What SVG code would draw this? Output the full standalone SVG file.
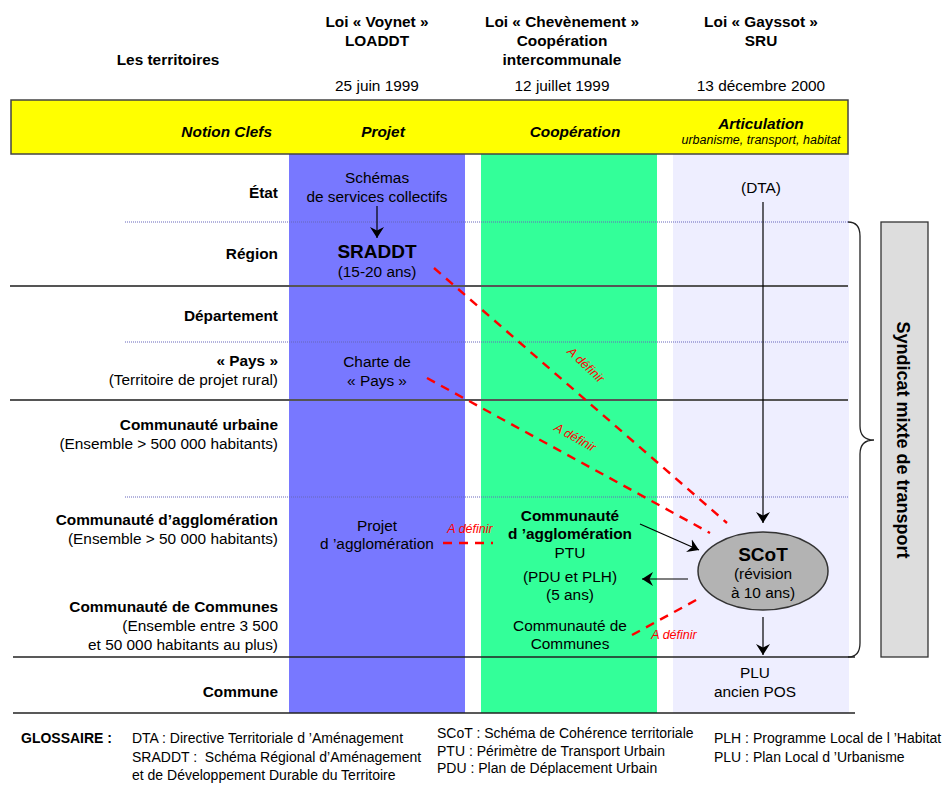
<svg xmlns="http://www.w3.org/2000/svg" width="945" height="785" viewBox="0 0 945 785">
<style>
text{font-family:"Liberation Sans",Arial,sans-serif;font-size:15.4px;fill:#000}
.c{text-anchor:middle}
.r{text-anchor:end}
.b{font-weight:bold}
.bi{font-weight:bold;font-style:italic}
.big{font-size:19px;font-weight:bold}
.red{fill:#FF0000;font-style:italic;font-size:12.5px}
.g{font-size:14px}
.solid{stroke:#555;stroke-width:2}
.thin{stroke:#222;stroke-width:1.3}
.dot{stroke:#6666BB;stroke-width:1;stroke-dasharray:1 1}
.dash{stroke:#FF0000;stroke-width:2.4;stroke-dasharray:9 7;fill:none}
.arr{stroke:#000;stroke-width:1.2;fill:none;marker-end:url(#ah)}
</style>
<defs>
<marker id="ah" viewBox="0 0 11 14" refX="11" refY="7" markerWidth="11" markerHeight="14" markerUnits="userSpaceOnUse" orient="auto">
<path d="M0,0 L11,7 L0,14 L3.5,7 z" fill="#000"/>
</marker>
</defs>
<rect width="945" height="785" fill="#fff"/>

<g id="header">
<text class="b c" x="168" y="65">Les territoires</text>
<text class="b c" x="377" y="27">Loi « Voynet »</text>
<text class="b c" x="377" y="46">LOADDT</text>
<text class="c" x="377" y="91">25 juin 1999</text>
<text class="b c" x="562" y="27">Loi « Chevènement »</text>
<text class="b c" x="562" y="46">Coopération</text>
<text class="b c" x="562" y="65">intercommunale</text>
<text class="c" x="562" y="91">12 juillet 1999</text>
<text class="b c" x="761" y="27">Loi « Gayssot »</text>
<text class="b c" x="761" y="46">SRU</text>
<text class="c" x="761" y="91">13 décembre 2000</text>
</g>

<g id="columns">
<rect x="289" y="154" width="176" height="559" fill="#7878FF"/>
<rect x="481" y="154" width="176" height="559" fill="#33FF99"/>
<rect x="673" y="154" width="176" height="559" fill="#EEEEFF"/>
</g>

<g id="band">
<rect x="11" y="100" width="837" height="54" fill="#FFFF00" stroke="#444" stroke-width="1.5"/>
<text class="bi r" x="272" y="137">Notion Clefs</text>
<text class="bi c" x="383" y="137">Projet</text>
<text class="bi c" x="575" y="137">Coopération</text>
<text class="bi c" x="761" y="129">Articulation</text>
<text class="c" x="761" y="144" style="font-style:italic;font-size:12.5px">urbanisme, transport, habitat</text>
</g>

<g id="gridlines">
<line class="dot" x1="125" y1="222" x2="848" y2="222"/>
<line class="solid" x1="10" y1="286" x2="848" y2="286"/>
<line class="dot" x1="125" y1="342" x2="848" y2="342"/>
<line class="solid" x1="10" y1="400" x2="848" y2="400"/>
<line class="dot" x1="125" y1="497" x2="848" y2="497"/>
<line class="thin" x1="13" y1="657" x2="855" y2="657"/>
<line class="thin" x1="13" y1="713" x2="855" y2="713"/>
</g>

<g id="territories">
<text class="b r" x="278" y="198">État</text>
<text class="b r" x="278" y="259">Région</text>
<text class="b r" x="278" y="321">Département</text>
<text class="b r" x="278" y="366">« Pays »</text>
<text class="r" x="278" y="385">(Territoire de projet rural)</text>
<text class="b r" x="278" y="430">Communauté urbaine</text>
<text class="r" x="278" y="449">(Ensemble &gt; 500 000 habitants)</text>
<text class="b r" x="278" y="525">Communauté d’agglomération</text>
<text class="r" x="278" y="544">(Ensemble &gt; 50 000 habitants)</text>
<text class="b r" x="278" y="612">Communauté de Communes</text>
<text class="r" x="278" y="631">(Ensemble entre 3 500</text>
<text class="r" x="278" y="650">et 50 000 habitants au plus)</text>
<text class="b r" x="278" y="697">Commune</text>
</g>

<g id="schemas">
<text class="c" x="377" y="183">Schémas</text>
<text class="c" x="377" y="202">de services collectifs</text>
</g>
<g id="sraddt">
<text class="big c" x="377" y="258">SRADDT</text>
<text class="c" x="377" y="277">(15-20 ans)</text>
</g>
<g id="charte">
<text class="c" x="377" y="367">Charte de</text>
<text class="c" x="377" y="386">« Pays »</text>
</g>
<g id="projet-agglo">
<text class="c" x="377" y="531">Projet</text>
<text class="c" x="377" y="549">d ’agglomération</text>
</g>
<g id="ca-ptu">
<text class="b c" x="570" y="521">Communauté</text>
<text class="b c" x="570" y="539">d ’agglomération</text>
<text class="c" x="570" y="558">PTU</text>
<text class="c" x="570" y="582">(PDU et PLH)</text>
<text class="c" x="570" y="600">(5 ans)</text>
</g>
<g id="cc">
<text class="c" x="570" y="631">Communauté de</text>
<text class="c" x="570" y="649">Communes</text>
</g>
<g id="dta">
<text class="c" x="761" y="193">(DTA)</text>
</g>
<g id="scot">
<ellipse cx="763" cy="571" rx="65" ry="39" fill="#B3B3B3" stroke="#333" stroke-width="1.5"/>
<text class="big c" x="763" y="561">SCoT</text>
<text class="c" x="763" y="579">(révision</text>
<text class="c" x="763" y="598">à 10 ans)</text>
</g>
<g id="plu">
<text class="c" x="755" y="678">PLU</text>
<text class="c" x="755" y="697">ancien POS</text>
</g>

<g id="syndicat">
<path d="M848,222 Q860,222 860,236 L860,426 Q860,440 874,440 Q860,440 860,454 L860,643 Q860,657 848,657" fill="none" stroke="#222" stroke-width="1.3"/>
<rect x="881" y="222" width="47" height="435" fill="#DDDDDD" stroke="#333" stroke-width="1.3"/>
<text class="b c" transform="translate(897,440) rotate(90)" style="font-size:18px">Syndicat mixte de transport</text>
</g>

<g id="connectors">
<line class="arr" x1="377" y1="206" x2="377" y2="238"/>
<line class="arr" x1="763" y1="202" x2="763" y2="523"/>
<line class="arr" x1="640" y1="524" x2="699" y2="550"/>
<line class="arr" x1="688" y1="579" x2="642" y2="579"/>
<line class="arr" x1="763" y1="617" x2="763" y2="655"/>
<line class="dash" x1="434" y1="268" x2="727" y2="523"/>
<line class="dash" x1="427" y1="378" x2="710" y2="533"/>
<line class="dash" x1="443" y1="543" x2="493" y2="543"/>
<line class="dash" x1="632" y1="635" x2="698" y2="599"/>
<text class="red c" transform="translate(583,368) rotate(43)">A définir</text>
<text class="red c" transform="translate(573,441) rotate(29)">A définir</text>
<text class="red c" x="470" y="533">A définir</text>
<text class="red c" x="674" y="639">A définir</text>
</g>

<g id="glossaire">
<text class="b g" x="21" y="743">GLOSSAIRE :</text>
<text class="g" x="132" y="743">DTA : Directive Territoriale d ’Aménagement</text>
<text class="g" x="132" y="762" xml:space="preserve">SRADDT :  Schéma Régional d’Aménagement</text>
<text class="g" x="132" y="780">et de Développement Durable du Territoire</text>
<text class="g" x="437" y="738">SCoT : Schéma de Cohérence territoriale</text>
<text class="g" x="437" y="756">PTU : Périmètre de Transport Urbain</text>
<text class="g" x="437" y="773">PDU : Plan de Déplacement Urbain</text>
<text class="g" x="714" y="743">PLH : Programme Local de l ’Habitat</text>
<text class="g" x="714" y="762">PLU : Plan Local d ’Urbanisme</text>
</g>
</svg>
